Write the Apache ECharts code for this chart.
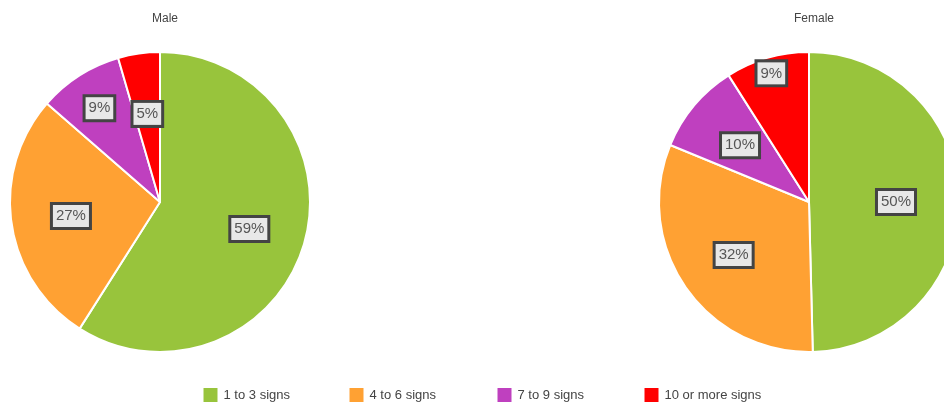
<!DOCTYPE html>
<html>
<head>
<meta charset="utf-8">
<script src="https://cdn.jsdelivr.net/npm/echarts@6/dist/echarts.min.js"></script>
<style>
    html, body { margin: 0; padding: 0; background: #fff; }
    #chart { width: 944px; height: 403px; }
</style>
</head>
<body>
<div id="chart"></div>
<script>
// categories
var categories = ['1 to 3 signs', '4 to 6 signs', '7 to 9 signs', '10 or more signs'];
// share of respondents (%)
var maleValues = [59.0, 27.4, 9.1, 4.5];
var femaleValues = [49.6, 31.6, 9.8, 9.0];
var groupNames = ['Male', 'Female'];

var colors = ['#98c43c', '#ffa133', '#bf40bf', '#ff0000'];

var chart = echarts.init(document.getElementById('chart'));

var centers = [[160, 202], [809, 202]];  // pie centres
var radius = 150;
// how far out each label sits (fraction of radius)
var labelRadius = [[0.62, 0.6, 0.75, 0.6], [0.58, 0.61, 0.6, 0.9]];
var legendLeft = [201.5, 347.5, 495.5, 642.5];
var allValues = [maleValues, femaleValues];
var font = 'Liberation Sans, Arial, sans-serif';

function toData(values) {
    return values.map(function (v, i) {
        return { name: categories[i], value: v };
    });
}

// place label along the slice's middle angle
function labelPos(seriesIndex, dataIndex) {
    var vals = allValues[seriesIndex];
    var total = 0, before = 0;
    for (var i = 0; i < vals.length; i++) {
        total += vals[i];
        if (i < dataIndex) before += vals[i];
    }
    var mid = (before + vals[dataIndex] / 2) / total * Math.PI * 2;
    var r = radius * labelRadius[seriesIndex][dataIndex];
    var c = centers[seriesIndex];
    return { x: c[0] + Math.sin(mid) * r, y: c[1] + 1 - Math.cos(mid) * r };
}

function makeSeries(idx) {
    return {
        name: groupNames[idx],
        type: 'pie',
        center: centers[idx],
        radius: radius,
        startAngle: 90,
        clockwise: true,
        avoidLabelOverlap: false,
        silent: true,
        data: toData(allValues[idx]),
        itemStyle: {
            borderColor: '#fff',
            borderWidth: 2
        },
        label: {
            show: true,
            position: 'inside',
            formatter: function (p) {
                return Math.round(p.percent) + '%';
            },
            fontFamily: font,
            fontSize: 15,
            color: '#555',
            backgroundColor: '#e8e8e8',
            borderColor: '#444',
            borderWidth: 3,
            padding: [4, 3, 3, 3]
        },
        labelLine: { show: false },
        labelLayout: function (params) {
            return labelPos(idx, params.dataIndex);
        }
    };
}

// one legend per category so every item gets its own slot
var legends = categories.map(function (name, i) {
    return {
        data: [name],
        left: legendLeft[i],
        top: 386,
        padding: 0,
        icon: 'rect',
        itemWidth: 16,
        itemHeight: 16,
        itemGap: 0,
        selectedMode: false,
        textStyle: {
            fontFamily: font,
            fontSize: 13,
            color: '#444'
        }
    };
});

var option = {
    backgroundColor: '#fff',
    color: colors,
    animation: false,
    title: groupNames.map(function (name, i) {
        return {
            text: name,
            left: centers[i][0],
            top: 8,
            textAlign: 'center',
            textStyle: { fontFamily: font, fontSize: 12, fontWeight: 'normal', color: '#444' }
        };
    }),
    legend: legends,
    series: [makeSeries(0), makeSeries(1)]
};

chart.setOption(option);
</script>
</body>
</html>
